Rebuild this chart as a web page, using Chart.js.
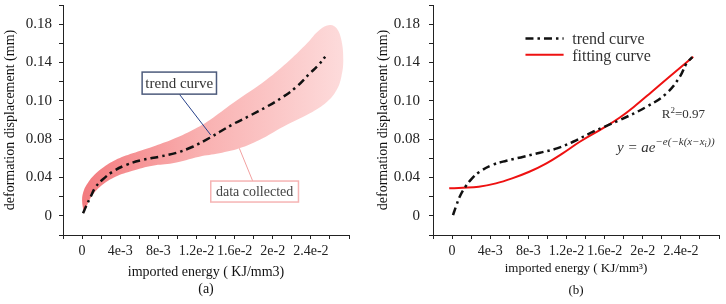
<!DOCTYPE html>
<html><head><meta charset="utf-8">
<script src="https://cdn.jsdelivr.net/npm/chart.js@4/dist/chart.umd.min.js"></script>
<style>
html,body{margin:0;padding:0;background:#fff;}
#wrap{position:relative;width:726px;height:304px;overflow:hidden;}
canvas{position:absolute;top:0;}
#ca{left:0}
#cb{left:363px}
</style></head><body>
<div id="wrap"><canvas id="ca" width="363" height="304"></canvas><canvas id="cb" width="363" height="304"></canvas></div>
<script>
// ---------- data ----------
const xTickLabels = ['0','4e-3','8e-3','1.2e-2','1.6e-2','2e-2','2.4e-2'];
const yTickLabels = ['0','0.04','0.08','0.10','0.14','0.18'];

// trend curve as read in panel (a)
const trendAX = [0.0001,0.0004,0.0009,0.0014,0.0021,0.0032,0.0046,0.0063,0.0081,0.0099,0.0116,0.0134,0.0158,0.0176,0.0193,0.0211,0.0225,0.0239,0.0248,0.0255];
const trendAY = [0.0026,0.0095,0.0199,0.0297,0.0374,0.0460,0.0530,0.0582,0.0617,0.0658,0.0721,0.0815,0.0955,0.1045,0.1135,0.1243,0.1347,0.1487,0.1574,0.1660];

// trend curve as read in panel (b)
const trendBX = [0.0001,0.0004,0.0008,0.0014,0.0021,0.0029,0.0042,0.0057,0.0075,0.0092,0.0110,0.0127,0.0148,0.0176,0.0204,0.0225,0.0239,0.0246,0.0252];
const trendBY = [0.0008,0.0095,0.0199,0.0304,0.0391,0.0460,0.0530,0.0575,0.0617,0.0658,0.0704,0.0773,0.0878,0.1000,0.1138,0.1278,0.1452,0.1591,0.1657];

// outline of the collected-data band (upper edge left->right, then lower edge right->left)
const bandX = [0.0002,0.0000,0.0002,0.0006,0.0011,0.0021,0.0035,0.0053,0.0074,0.0095,0.0116,0.0134,0.0158,0.0193,0.0218,0.0236,0.0249,0.0260,0.0267,0.0272,0.0274,0.0272,0.0267,0.0257,0.0239,0.0211,0.0186,0.0165,0.0144,0.0123,0.0095,0.0074,0.0053,0.0035,0.0021,0.0011,0.0006];
const bandY = [0.0026,0.0165,0.0269,0.0342,0.0408,0.0496,0.0582,0.0652,0.0721,0.0798,0.0895,0.1000,0.1174,0.1417,0.1626,0.1800,0.1939,0.1991,0.1957,0.1834,0.1626,0.1452,0.1313,0.1191,0.1070,0.0930,0.0791,0.0704,0.0652,0.0617,0.0548,0.0523,0.0471,0.0408,0.0321,0.0217,0.0130];

const fitX = [-0.0003,0.0011,0.0028,0.0046,0.0063,0.0081,0.0099,0.0116,0.0134,0.0158,0.0176,0.0193,0.0209,0.0228,0.0253];
const fitY = [0.0287,0.0293,0.0304,0.0339,0.0391,0.0460,0.0548,0.0652,0.0773,0.0913,0.1026,0.1156,0.1290,0.1452,0.1660];

const rSquared = '0.97';

// ---------- styling / helpers ----------
const SERIF = "'Liberation Serif','Times New Roman',serif";
Chart.defaults.font.family = SERIF;
const pts = (xs, ys) => xs.map((v, i) => ({x: v, y: ys[i]}));
const xMinor = []; for (let i = -1; i <= 14; i++) xMinor.push(i * 0.002);
const yMinor = []; for (let i = -1; i <= 11; i++) yMinor.push(i * 0.02);
const DASHDOT = [8, 4, 2.5, 4];

function yScale(width, titlePad, tickPad) {
  return {
    type: 'linear', min: -0.02, max: 0.22,
    afterBuildTicks: s => { s.ticks = yMinor.map(v => ({value: v})); },
    ticks: {autoSkip: false, padding: tickPad, color: '#222', font: {family: SERIF, size: 15},
      callback: v => { const i = Math.round(v / 0.02); return (i >= 0 && i % 2 === 0 && yTickLabels[i / 2] !== undefined) ? yTickLabels[i / 2] : ''; }},
    grid: {drawOnChartArea: false, drawTicks: true, tickLength: 4, color: '#222'},
    border: {color: '#222', width: 1},
    title: {display: true, text: 'deformation displacement (mm)', color: '#111', font: {family: SERIF, size: 14}, padding: {top: titlePad, bottom: 0}},
    afterFit: s => { s.width = width; s.paddingTop = 0; s.paddingBottom = 0; }
  };
}
function xScale(max, text, size, lh, height) {
  return {
    type: 'linear', min: -0.002, max: max,
    afterBuildTicks: s => { s.ticks = xMinor.filter(v => v <= max + 1e-9).map(v => ({value: v})); },
    ticks: {autoSkip: false, maxRotation: 0, minRotation: 0, padding: 4, color: '#222', font: {family: SERIF, size: 14},
      callback: v => { const i = Math.round(v / 0.002); return (i >= 0 && i % 2 === 0 && xTickLabels[i / 2] !== undefined) ? xTickLabels[i / 2] : ''; }},
    grid: {drawOnChartArea: false, drawTicks: true, tickLength: 4, color: '#222'},
    border: {color: '#222', width: 1},
    title: {display: true, text: text, color: '#111', font: {family: SERIF, size: size, lineHeight: lh}, padding: {top: 0, bottom: 0}},
    afterFit: s => { s.height = height; s.paddingLeft = 0; s.paddingRight = 0; }
  };
}
const baseOpts = {responsive: false, animation: false, events: [],
  plugins: {legend: {display: false}, tooltip: {enabled: false}, title: {display: false}}};

// callouts of panel (a), anchored in data units
const calloutsA = [
  {text: 'trend curve', box: [0.0063, 0.150, 0.0141, 0.127], from: [0.0102, 0.127], to: [0.0135, 0.0843], border: '#4d5b7c', line: '#26408a', color: '#333', size: 15},
  {text: 'data collected', box: [0.0135, 0.0363, 0.0227, 0.0144], from: [0.0179, 0.0363], to: [0.0165, 0.0704], border: '#f5b4b4', line: '#f2a0a0', color: '#444', size: 14}
];
const calloutPlugin = {
  id: 'calloutA',
  afterDatasetsDraw(chart) {
    const {ctx, scales: {x, y}} = chart;
    ctx.save();
    calloutsA.forEach(c => {
      ctx.beginPath(); ctx.strokeStyle = c.line; ctx.lineWidth = 1;
      ctx.moveTo(x.getPixelForValue(c.from[0]), y.getPixelForValue(c.from[1]));
      ctx.lineTo(x.getPixelForValue(c.to[0]), y.getPixelForValue(c.to[1]));
      ctx.stroke();
      const x0 = x.getPixelForValue(c.box[0]), y0 = y.getPixelForValue(c.box[1]);
      const x1 = x.getPixelForValue(c.box[2]), y1 = y.getPixelForValue(c.box[3]);
      ctx.fillStyle = '#fff'; ctx.fillRect(x0, y0, x1 - x0, y1 - y0);
      ctx.strokeStyle = c.border; ctx.lineWidth = 1.5; ctx.strokeRect(x0, y0, x1 - x0, y1 - y0);
      ctx.fillStyle = c.color; ctx.font = c.size + 'px ' + SERIF; ctx.textAlign = 'center'; ctx.textBaseline = 'middle';
      ctx.fillText(c.text, (x0 + x1) / 2, (y0 + y1) / 2 + 1);
    });
    ctx.restore();
  }
};

// legend + annotations of panel (b), anchored in data units
const legendB = {x0: 0.0077, x1: 0.0117, tx: 0.0126, rows: [{ly: 0.1850, ty: 0.1835}, {ly: 0.1680, ty: 0.1660}]};
const noteB = {rx: 0.0220, ry: 0.1052, ex: 0.0173, ey: 0.0708};
const legendPlugin = {
  id: 'legendB',
  afterDatasetsDraw(chart) {
    const {ctx, scales: {x, y}} = chart;
    const X = v => x.getPixelForValue(v), Y = v => y.getPixelForValue(v);
    ctx.save();
    chart.data.datasets.forEach((ds, i) => {
      const r = legendB.rows[i];
      ctx.beginPath(); ctx.setLineDash(ds.borderDash || []); ctx.strokeStyle = ds.borderColor; ctx.lineWidth = ds.borderWidth;
      ctx.moveTo(X(legendB.x0), Y(r.ly)); ctx.lineTo(X(legendB.x1), Y(r.ly)); ctx.stroke();
      ctx.setLineDash([]);
      ctx.fillStyle = '#333'; ctx.font = '16px ' + SERIF; ctx.textAlign = 'left'; ctx.textBaseline = 'middle';
      ctx.fillText(ds.label, X(legendB.tx), Y(r.ty));
    });
    // R^2
    let px = X(noteB.rx); const py = Y(noteB.ry);
    ctx.fillStyle = '#333';
    ctx.font = '13px ' + SERIF; ctx.fillText('R', px, py); px += ctx.measureText('R').width;
    ctx.font = '9px ' + SERIF; ctx.fillText('2', px, py - 4); px += ctx.measureText('2').width;
    ctx.font = '13px ' + SERIF; ctx.fillText('=' + rSquared, px, py);
    // equation
    let ex = X(noteB.ex); const ey = Y(noteB.ey);
    ctx.font = 'italic 15px ' + SERIF; ctx.fillText('y = ae', ex, ey); ex += ctx.measureText('y = ae').width;
    ctx.font = 'italic 11px ' + SERIF; ctx.fillText('\u2212e(\u2212k(x\u2212x', ex, ey - 6); ex += ctx.measureText('\u2212e(\u2212k(x\u2212x').width;
    ctx.font = 'italic 8px ' + SERIF; ctx.fillText('i', ex, ey - 3); ex += ctx.measureText('i').width + 0.5;
    ctx.font = 'italic 11px ' + SERIF; ctx.fillText('))', ex, ey - 6);
    ctx.restore();
  }
};

// ---------- panel (a) ----------
new Chart(document.getElementById('ca'), {
  type: 'line',
  data: {datasets: [
    {label: 'trend curve', data: pts(trendAX, trendAY), borderColor: '#111', borderWidth: 2.5, borderDash: DASHDOT, pointRadius: 0, tension: 0.4, fill: false},
    {label: 'data collected', data: pts(bandX, bandY), borderWidth: 0, borderColor: 'rgba(0,0,0,0)', pointRadius: 0, tension: 0.4, fill: 'shape',
      backgroundColor: c => {
        const ch = c.chart; if (!ch.chartArea) return 'rgba(248,170,170,1)';
        const sx = ch.scales.x;
        const g = ch.ctx.createLinearGradient(sx.getPixelForValue(0), 0, sx.getPixelForValue(0.0274), 0);
        g.addColorStop(0, 'rgb(243,122,126)'); g.addColorStop(0.45, 'rgb(249,176,176)'); g.addColorStop(1, 'rgb(253,219,219)');
        return g;
      }}
  ]},
  options: Object.assign({}, baseOpts, {
    layout: {padding: {left: 0, right: 14, top: 5, bottom: 6}},
    scales: {x: xScale(0.028, ['imported energy ( KJ/mm3)', '(a)'], 14, 1.2, 63), y: yScale(63, 2, 7)}
  }),
  plugins: [calloutPlugin]
});

// ---------- panel (b) ----------
new Chart(document.getElementById('cb'), {
  type: 'line',
  data: {datasets: [
    {label: 'trend curve', data: pts(trendBX, trendBY), borderColor: '#111', borderWidth: 2.5, borderDash: DASHDOT, pointRadius: 0, tension: 0.4, fill: false},
    {label: 'fitting curve', data: pts(fitX, fitY), borderColor: '#ee1111', borderWidth: 2, pointRadius: 0, tension: 0.4, fill: false}
  ]},
  options: Object.assign({}, baseOpts, {
    layout: {padding: {left: 0, right: 7, top: 5, bottom: 2}},
    scales: {x: xScale(0.028, ['imported energy ( KJ/mm\u00b3)', '(b)'], 13, 1.7, 67), y: yScale(70, 12, 9)}
  }),
  plugins: [legendPlugin]
});
</script>
</body></html>
